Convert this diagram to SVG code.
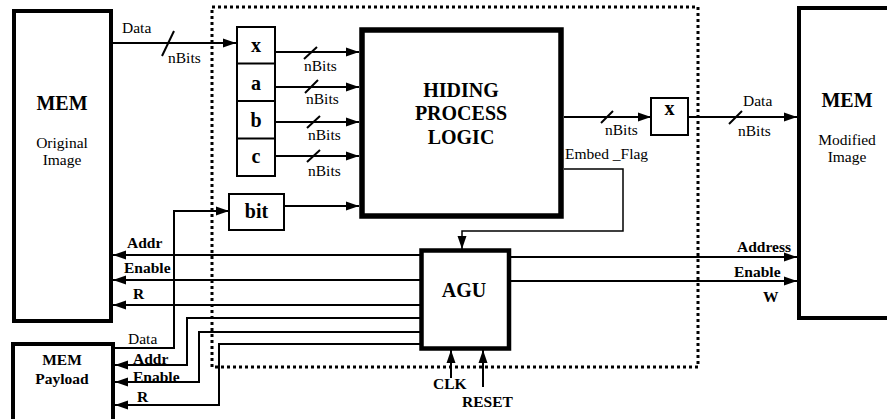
<svg xmlns="http://www.w3.org/2000/svg" width="887" height="419" viewBox="0 0 887 419">
<defs>
<marker id="ah" markerUnits="userSpaceOnUse" markerWidth="14" markerHeight="10" refX="13" refY="5" orient="auto">
<path d="M0,0.5 L13,5 L0,9.5 Z" fill="#000"/>
</marker>
<style>
.r{font-size:15.5px}
.b{font-size:15.5px;font-weight:bold}
.big{font-size:20px;font-weight:bold}
.m{text-anchor:middle}
.e{text-anchor:end}
.box{fill:#fff;stroke:#000}
.w{fill:none;stroke:#000;stroke-width:2}
.t{fill:none;stroke:#000;stroke-width:1.5}
.a{marker-end:url(#ah)}
</style>
</defs>
<rect width="887" height="419" fill="#fff"/>
<g font-family="Liberation Serif, DejaVu Serif, serif" fill="#000">
<rect x="212" y="7" width="486" height="360" fill="none" stroke="#000" stroke-width="3" stroke-dasharray="3 3"/>
<g id="connectors">
<path class="w a" d="M111,43 H236"/>
<path class="w" d="M162,56 L174,31"/>
<path class="w a" d="M275,52 H359"/>
<path class="w" d="M304,59 L317,47"/>
<path class="w a" d="M273,87 H359"/>
<path class="w" d="M305,93 L318,80"/>
<path class="w a" d="M275,122 H359"/>
<path class="w" d="M307,128 L320,116"/>
<path class="w a" d="M275,156 H359"/>
<path class="w" d="M307,162 L320,150"/>
<path class="w a" d="M284,206 H359"/>
<path class="w a" d="M564,117 H651"/>
<path class="w" d="M601,123 L613,111"/>
<path class="w a" d="M688,117 H797"/>
<path class="w" d="M729,124 L742,111"/>
<path class="t a" d="M564,169 H623 V231 H462 V249"/>
<path class="w a" d="M421,255 H113"/>
<path class="w a" d="M421,280 H113"/>
<path class="w a" d="M421,305 H113"/>
<path class="w a" d="M115,348 H174 V211 H229"/>
<path class="w a" d="M421,318 H187 V365 H115"/>
<path class="w a" d="M421,332 H199 V382 H115"/>
<path class="w a" d="M421,344 H219 V405 H115"/>
<path class="w a" d="M510,257 H797"/>
<path class="w a" d="M510,281 H797"/>
<path class="w a" stroke-width="2.5" d="M451,378 V350"/>
<path class="w a" stroke-width="2.5" d="M483,387 V350"/>
</g>
<g id="mem-original">
<rect class="box" x="14" y="11" width="97" height="310" stroke-width="4"/>
<text class="big m" x="62" y="110">MEM</text>
<text class="r m" x="62" y="148">Original</text>
<text class="r m" x="62" y="165">Image</text>
</g>
<g id="mem-modified">
<rect class="box" x="799" y="8" width="100" height="310" stroke-width="4"/>
<text class="big m" x="847" y="107">MEM</text>
<text class="r m" x="847" y="145">Modified</text>
<text class="r m" x="847" y="162">Image</text>
</g>
<g id="mem-payload">
<rect class="box" x="13" y="344" width="100" height="80" stroke-width="4"/>
<text class="b m" x="62" y="365">MEM</text>
<text class="b m" x="62" y="384">Payload</text>
</g>
<g id="registers">
<rect class="box" x="237" y="27" width="38" height="149" stroke-width="2"/>
<path class="w" d="M237,63.5 H275 M237,101 H275 M237,138.5 H275"/>
<text class="big m" x="256" y="52" font-size="19">x</text>
<text class="big m" x="256" y="90">a</text>
<text class="big m" x="256" y="127">b</text>
<text class="big m" x="256" y="163">c</text>
</g>
<g id="bit">
<rect class="box" x="229" y="194" width="55" height="36" stroke-width="2"/>
<text class="big m" x="256.5" y="218">bit</text>
</g>
<g id="hpl">
<rect class="box" x="362" y="30" width="199" height="186" stroke-width="5.5"/>
<text class="big m" x="461" y="97">HIDING</text>
<text class="big m" x="461" y="120">PROCESS</text>
<text class="big m" x="461" y="144">LOGIC</text>
</g>
<g id="out-x">
<rect class="box" x="651" y="98" width="37" height="37" stroke-width="2"/>
<text class="big m" x="669.5" y="115">x</text>
</g>
<g id="agu">
<rect class="box" x="421.5" y="250.5" width="87.5" height="98" stroke-width="4.5"/>
<text class="big m" x="464" y="297" font-size="19">AGU</text>
</g>
<g id="labels">
<text class="r" x="122" y="33">Data</text>
<text class="r" x="168" y="63">nBits</text>
<text class="r" x="304" y="71">nBits</text>
<text class="r" x="306" y="104">nBits</text>
<text class="r" x="308" y="140">nBits</text>
<text class="r" x="308" y="176">nBits</text>
<text class="r" x="605" y="135">nBits</text>
<text class="r" x="743" y="106">Data</text>
<text class="r" x="738" y="136">nBits</text>
<text class="r" x="565" y="159">Embed _Flag</text>
<text class="b" x="127" y="248">Addr</text>
<text class="b" x="124" y="273">Enable</text>
<text class="b" x="133" y="299">R</text>
<text class="r" x="128" y="344">Data</text>
<text class="b" x="133" y="364">Addr</text>
<text class="b" x="133" y="381.5">Enable</text>
<text class="b" x="137" y="402">R</text>
<text class="b e" x="791" y="252">Address</text>
<text class="b" x="734" y="277">Enable</text>
<text class="b" x="763" y="302">W</text>
<text class="b" x="433" y="389">CLK</text>
<text class="b" x="462" y="407">RESET</text>
</g>
</g>
</svg>
